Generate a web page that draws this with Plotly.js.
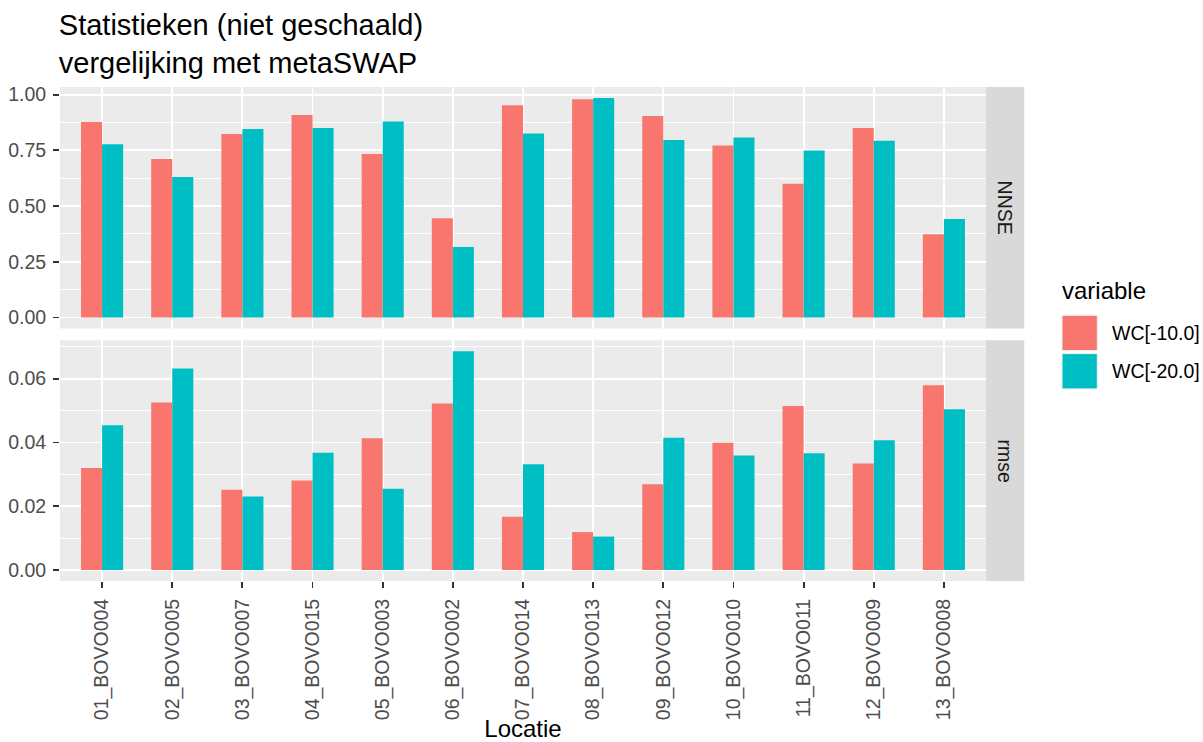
<!DOCTYPE html>
<html>
<head>
<meta charset="utf-8">
<script src="https://cdn.plot.ly/plotly-3.0.1.min.js"></script>
<style>html,body{margin:0;padding:0;background:#fff;}#chart{width:1203px;height:742px;}</style>
</head>
<body>
<div id="chart"></div>
<script>
// ---- data ----
const locaties = ["01_BOVO004","02_BOVO005","03_BOVO007","04_BOVO015","05_BOVO003","06_BOVO002","07_BOVO014","08_BOVO013","09_BOVO012","10_BOVO010","11_BOVO011","12_BOVO009","13_BOVO008"];
const seriesNames = ["WC[-10.0]","WC[-20.0]"];
const nnse_wc10 = [0.877,0.711,0.823,0.909,0.734,0.445,0.952,0.979,0.904,0.772,0.600,0.850,0.374];
const nnse_wc20 = [0.777,0.630,0.846,0.850,0.880,0.316,0.826,0.985,0.796,0.808,0.749,0.793,0.442];
const rmse_wc10 = [0.0320,0.0525,0.0252,0.0281,0.0413,0.0522,0.0167,0.0119,0.0269,0.0399,0.0514,0.0334,0.0579];
const rmse_wc20 = [0.0454,0.0632,0.0231,0.0368,0.0255,0.0686,0.0332,0.0105,0.0415,0.0359,0.0366,0.0407,0.0504];
const facetLabels = ["NNSE","rmse"];
const legendTitle = "variable";
const titleText = "Statistieken (niet geschaald)<br>vergelijking met metaSWAP";
const xTitle = "Locatie";

// ---- style ----
const colors = ["#F8766D","#00BFC4"];
const FONT = "Liberation Sans, Arial, sans-serif";
const FS = 19.5;
const W = 1203, H = 742;
const L = 60, R = 986, T = 86.7, B = 580.7;  // plot area in px
const topPanel = [86.7, 328.2], botPanel = [340, 580.7];
const px2x = p => (p - L) / (R - L);
const px2y = p => (B - p) / (B - T);

function ggRange(arrs){
  const vals = [].concat(...arrs);
  const mn = Math.min(0, ...vals), mx = Math.max(...vals);
  const e = (mx - mn) * 0.05;
  return [mn - e, mx + e];
}

const traces = [
  {type:"bar", name:seriesNames[0], x:locaties, y:nnse_wc10, xaxis:"x2", yaxis:"y2", marker:{color:colors[0]}, showlegend:false},
  {type:"bar", name:seriesNames[1], x:locaties, y:nnse_wc20, xaxis:"x2", yaxis:"y2", marker:{color:colors[1]}, showlegend:false},
  {type:"bar", name:seriesNames[0], x:locaties, y:rmse_wc10, xaxis:"x", yaxis:"y", marker:{color:colors[0]}, showlegend:false},
  {type:"bar", name:seriesNames[1], x:locaties, y:rmse_wc20, xaxis:"x", yaxis:"y", marker:{color:colors[1]}, showlegend:false}
];

const gridCommon = {showgrid:true, gridcolor:"#FFFFFF", gridwidth:1.8, zeroline:false, showline:false};
const xr = [-0.6, locaties.length - 1 + 0.6];

const shapes = [];
const annotations = [];
// facet strips
[[topPanel, facetLabels[0]], [botPanel, facetLabels[1]]].forEach(([pan, lab]) => {
  shapes.push({type:"rect", xref:"paper", yref:"paper", x0:1, x1:px2x(1024.3), y0:px2y(pan[1]), y1:px2y(pan[0]), fillcolor:"#D9D9D9", line:{width:0}, layer:"below"});
  annotations.push({xref:"paper", yref:"paper", x:px2x(1005.2), y:px2y((pan[0]+pan[1])/2), text:lab, showarrow:false, textangle:90, font:{family:FONT, size:FS, color:"#1A1A1A"}, xanchor:"center", yanchor:"middle"});
});
// legend
annotations.push({xref:"paper", yref:"paper", x:px2x(1060), y:px2y(290), text:legendTitle, showarrow:false, xanchor:"left", yanchor:"middle", font:{family:FONT, size:24, color:"#000000"}});
const keyTops = [315, 353.3];
seriesNames.forEach((n, i) => {
  const t = keyTops[i];
  shapes.push({type:"rect", xref:"paper", yref:"paper", x0:px2x(1062), x1:px2x(1097.3), y0:px2y(t+35.3), y1:px2y(t), fillcolor:colors[i], line:{width:1, color:"#F2F2F2"}});
  annotations.push({xref:"paper", yref:"paper", x:px2x(1110), y:px2y(t+17.6), text:n, showarrow:false, xanchor:"left", yanchor:"middle", font:{family:FONT, size:FS, color:"#000000"}});
});

const layout = {
  width:W, height:H,
  paper_bgcolor:"#FFFFFF", plot_bgcolor:"#EBEBEB",
  margin:{l:L, r:W-R, t:T, b:H-B, pad:0},
  font:{family:FONT, size:FS, color:"#4D4D4D"},
  title:{text:titleText, x:L/W - 0.001, xanchor:"left", xref:"container", y:1 - 35/H, yanchor:"top", yref:"container", font:{family:FONT, size:29, color:"#000000"}},
  barmode:"group", bargap:0.4, bargroupgap:0,
  showlegend:false,
  xaxis:Object.assign({}, gridCommon, {anchor:"y", type:"category", range:xr, tickangle:-90, ticks:"outside", ticklen:6, tickwidth:1.8, tickcolor:"#333333", ticklabelstandoff:3, tickfont:{family:FONT, size:FS, color:"#4D4D4D"}, title:{text:xTitle, standoff:16, font:{family:FONT, size:24, color:"#000000"}}, automargin:false}),
  xaxis2:Object.assign({}, gridCommon, {anchor:"y2", type:"category", matches:"x", range:xr, showticklabels:false, ticks:""}),
  yaxis:Object.assign({}, gridCommon, {domain:[0, px2y(botPanel[0])], range:ggRange([rmse_wc10, rmse_wc20]), dtick:0.02, tick0:0, tickformat:".2f", ticks:"outside", ticklen:6, tickwidth:1.8, tickcolor:"#333333", ticklabelstandoff:3, tickfont:{family:FONT, size:FS, color:"#4D4D4D"}, minor:{dtick:0.01, tick0:0, showgrid:true, gridcolor:"#FFFFFF", gridwidth:0.9}, automargin:false}),
  yaxis2:Object.assign({}, gridCommon, {domain:[px2y(topPanel[1]), 1], range:ggRange([nnse_wc10, nnse_wc20]), dtick:0.25, tick0:0, tickformat:".2f", ticks:"outside", ticklen:6, tickwidth:1.8, tickcolor:"#333333", ticklabelstandoff:3, tickfont:{family:FONT, size:FS, color:"#4D4D4D"}, minor:{dtick:0.125, tick0:0, showgrid:true, gridcolor:"#FFFFFF", gridwidth:0.9}, automargin:false}),
  shapes:shapes,
  annotations:annotations
};

Plotly.newPlot("chart", traces, layout, {staticPlot:true, displayModeBar:false});
</script>
</body>
</html>
